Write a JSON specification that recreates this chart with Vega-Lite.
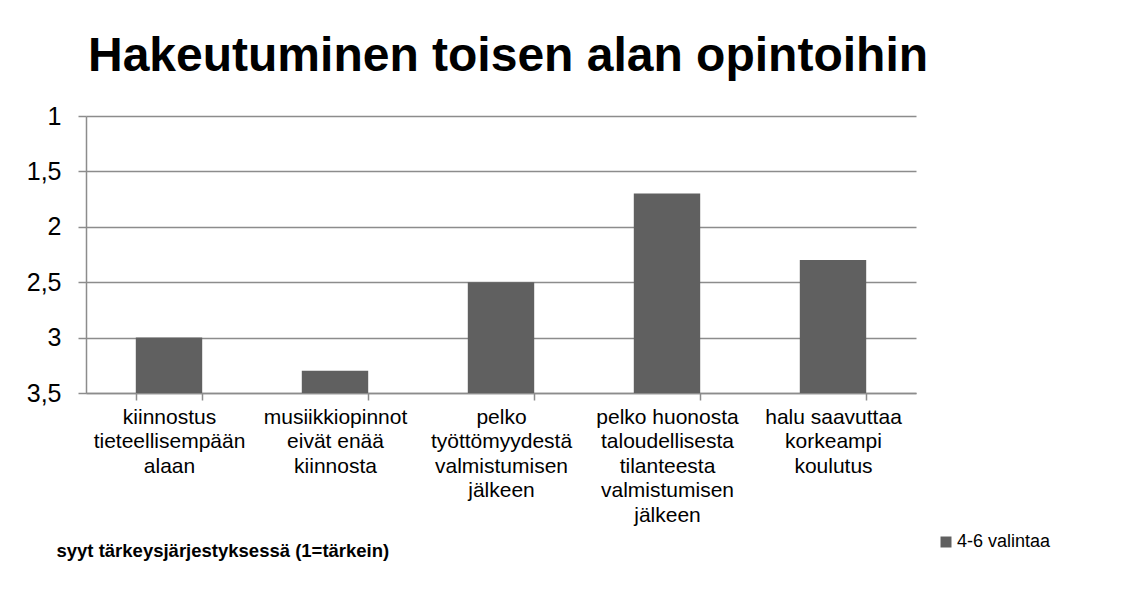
{
  "$schema": "https://vega.github.io/schema/vega-lite/v6.json",
  "autosize": "none",
  "width": 830,
  "height": 277,
  "padding": {"left": 86, "top": 116, "right": 225, "bottom": 199},
  "background": "white",
  "config": {
    "font": "Liberation Sans",
    "view": {"stroke": null}
  },
  "title": {
    "text": "Hakeutuminen toisen alan opintoihin",
    "fontSize": 48,
    "fontWeight": "bold",
    "color": "black",
    "anchor": "middle",
    "offset": 23,
    "dx": 7,
    "font": "Liberation Sans"
  },
  "data": {
    "values": [
      {"syy": "kiinnostus tieteellisempään alaan", "arvo": 3.0, "sarja": "4-6 valintaa"},
      {"syy": "musiikkiopinnot eivät enää kiinnosta", "arvo": 3.3, "sarja": "4-6 valintaa"},
      {"syy": "pelko työttömyydestä valmistumisen jälkeen", "arvo": 2.5, "sarja": "4-6 valintaa"},
      {"syy": "pelko huonosta taloudellisesta tilanteesta valmistumisen jälkeen", "arvo": 1.7, "sarja": "4-6 valintaa"},
      {"syy": "halu saavuttaa korkeampi koulutus", "arvo": 2.3, "sarja": "4-6 valintaa"}
    ]
  },
  "mark": {"type": "bar"},
  "encoding": {
    "x": {
      "field": "syy",
      "type": "nominal",
      "sort": null,
      "scale": {"paddingInner": 0.6, "paddingOuter": 0.3},
      "axis": {
        "title": "syyt tärkeysjärjestyksessä (1=tärkein)",
        "titleFontSize": 18.5,
        "titleFontWeight": "bold",
        "titleColor": "black",
        "titleAnchor": "start",
        "titleAlign": "left",
        "titleBaseline": "alphabetic",
        "titleX": -30,
        "titleY": 163,
        "labelAngle": 0,
        "labelFontSize": 21,
        "labelColor": "black",
        "labelLineHeight": 24.5,
        "labelPadding": 6,
        "labelBaseline": "top",
        "labelLimit": 0,
        "tickBand": "extent",
        "tickSize": 7,
        "tickColor": "#8c8c8c",
        "tickWidth": 1.5,
        "domainColor": "#8c8c8c",
        "domainWidth": 1.5,
        "labelExpr": "{'kiinnostus tieteellisempään alaan': ['kiinnostus', 'tieteellisempään', 'alaan'], 'musiikkiopinnot eivät enää kiinnosta': ['musiikkiopinnot', 'eivät enää', 'kiinnosta'], 'pelko työttömyydestä valmistumisen jälkeen': ['pelko', 'työttömyydestä', 'valmistumisen', 'jälkeen'], 'pelko huonosta taloudellisesta tilanteesta valmistumisen jälkeen': ['pelko huonosta', 'taloudellisesta', 'tilanteesta', 'valmistumisen', 'jälkeen'], 'halu saavuttaa korkeampi koulutus': ['halu saavuttaa', 'korkeampi', 'koulutus']}[datum.label]"
      }
    },
    "y": {
      "field": "arvo",
      "type": "quantitative",
      "scale": {"domain": [1, 3.5], "reverse": true, "zero": false, "nice": false},
      "axis": {
        "title": null,
        "values": [1, 1.5, 2, 2.5, 3, 3.5],
        "labelExpr": "replace(toString(datum.value), '.', ',')",
        "labelFontSize": 25,
        "labelColor": "black",
        "labelPadding": 17,
        "tickSize": 8,
        "tickColor": "#8c8c8c",
        "tickWidth": 1.5,
        "domainColor": "#8c8c8c",
        "domainWidth": 1.5,
        "grid": true,
        "gridColor": "#8c8c8c",
        "gridWidth": 1.5
      }
    },
    "y2": {"datum": 3.5},
    "color": {
      "field": "sarja",
      "type": "nominal",
      "scale": {"range": ["#606060"]},
      "legend": {
        "title": null,
        "orient": "none",
        "legendX": 851,
        "legendY": 417,
        "symbolType": "square",
        "symbolSize": 121,
        "symbolStrokeWidth": 0,
        "labelFontSize": 18,
        "labelColor": "black",
        "labelOffset": 2
      }
    }
  }
}
